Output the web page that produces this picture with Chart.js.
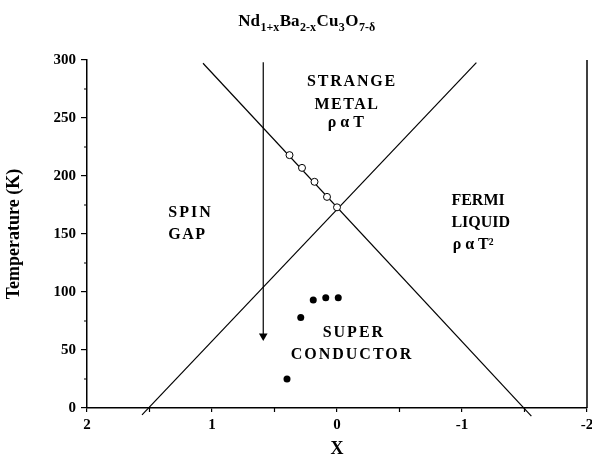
<!DOCTYPE html>
<html>
<head>
<meta charset="utf-8">
<script src="https://cdn.jsdelivr.net/npm/chart.js@4.4.1/dist/chart.umd.min.js"></script>
<style>
body{margin:0;background:#fff;}
#wrap{width:592px;height:464px;}
</style>
</head>
<body>
<div id="wrap"><canvas id="c" width="592" height="464"></canvas></div>
<script>
// phase diagram values
var openX = [0.38, 0.28, 0.18, 0.08, 0.0];
var openY = [218, 207, 195, 182, 173];
var dotX = [0.40, 0.29, 0.19, 0.09, -0.01];
var dotY = [25, 78, 93, 95, 95];
var lineAX = [1.56, -1.115];
var lineAY = [-6, 297.7];
var lineBX = [1.072, -1.555];
var lineBY = [297.2, -7];
var arrowX = [0.59, 0.59];
var arrowY = [298, 62];
var yMinor = [25, 75, 125, 175, 225, 275];
var xMinor = [1.5, 0.5, -0.5, -1.5];

var serif = 'Liberation Serif';

function pts(xs, ys) {
    var a = [];
    for (var i = 0; i < xs.length; i++) a.push({x: xs[i], y: ys[i]});
    return a;
}

// region names, placed in data units
var labels = [
    {t: 'STRANGE', x: -0.12, y: 281, al: 'center', sp: 1.8},
    {t: 'METAL', x: -0.08, y: 261, al: 'center', sp: 1.5},
    {t: 'ρ α T', x: -0.07, y: 246, al: 'center', sp: 0},
    {t: 'SPIN', x: 1.35, y: 168, al: 'left', sp: 2},
    {t: 'GAP', x: 1.35, y: 149, al: 'left', sp: 1.5},
    {t: 'FERMI', x: -0.915, y: 179, al: 'left', sp: 0},
    {t: 'LIQUID', x: -0.915, y: 160, al: 'left', sp: 0},
    {t: 'ρ α T²', x: -0.925, y: 141, al: 'left', sp: 0},
    {t: 'SUPER', x: -0.135, y: 65, al: 'center', sp: 2},
    {t: 'CONDUCTOR', x: -0.12, y: 46, al: 'center', sp: 2}
];

var extras = {
    id: 'extras',
    afterDraw: function (chart) {
        var c = chart.ctx, xs = chart.scales.x, ys = chart.scales.y, a = chart.chartArea;
        c.save();
        c.strokeStyle = '#000';
        c.lineWidth = 1.2;
        c.beginPath();
        // minor ticks
        yMinor.forEach(function (v) {
            var p = ys.getPixelForValue(v);
            c.moveTo(a.left - 3, p); c.lineTo(a.left, p);
        });
        xMinor.forEach(function (v) {
            var p = xs.getPixelForValue(v);
            c.moveTo(p, a.bottom); c.lineTo(p, a.bottom + 4);
        });
        c.stroke();
        // right frame
        c.lineWidth = 1.5;
        c.beginPath();
        c.moveTo(a.right, a.top); c.lineTo(a.right, a.bottom);
        c.stroke();

        c.fillStyle = '#000';
        c.textBaseline = 'middle';
        c.font = 'bold 16px "' + serif + '"';
        labels.forEach(function (l) {
            c.letterSpacing = l.sp + 'px';
            c.textAlign = l.al;
            c.fillText(l.t, xs.getPixelForValue(l.x), ys.getPixelForValue(l.y));
        });
        c.letterSpacing = '0px';

        // title with subscripts
        var runs = [['Nd', 0], ['1+x', 1], ['Ba', 0], ['2-x', 1], ['Cu', 0], ['3', 1], ['O', 0], ['7-δ', 1]];
        var w = 0;
        runs.forEach(function (r) {
            c.font = r[1] ? 'bold 12px "' + serif + '"' : 'bold 17px "' + serif + '"';
            w += c.measureText(r[0]).width + 0.5;
        });
        var x = 307 - w / 2;
        c.textAlign = 'left';
        c.textBaseline = 'alphabetic';
        runs.forEach(function (r) {
            c.font = r[1] ? 'bold 12px "' + serif + '"' : 'bold 17px "' + serif + '"';
            c.fillText(r[0], x, r[1] ? 31 : 26);
            x += c.measureText(r[0]).width + 0.5;
        });
        c.restore();
    }
};

var tickFont = {family: serif, weight: 'bold', size: 15};
var titleFont = {family: serif, weight: 'bold', size: 18};

new Chart(document.getElementById('c'), {
    type: 'scatter',
    data: {
        datasets: [
            {data: pts(openX, openY), pointRadius: 3.5, pointBackgroundColor: '#fff', pointBorderColor: '#000', pointBorderWidth: 1},
            {data: pts(dotX, dotY), pointRadius: 3.5, pointBackgroundColor: '#000', pointBorderColor: '#000', pointBorderWidth: 0},
            {data: pts(lineAX, lineAY), showLine: true, borderColor: '#000', borderWidth: 1.2, pointRadius: 0, clip: 12},
            {data: pts(lineBX, lineBY), showLine: true, borderColor: '#000', borderWidth: 1.2, pointRadius: 0, clip: 12},
            {data: pts(arrowX, arrowY), showLine: true, borderColor: '#000', borderWidth: 1.2,
             pointRadius: [0, 5], pointStyle: 'triangle', rotation: 180, pointBackgroundColor: '#000', pointBorderWidth: 0}
        ]
    },
    options: {
        responsive: false,
        animation: false,
        devicePixelRatio: 1,
        layout: {padding: {top: 60, right: 5, left: 0, bottom: 0}},
        plugins: {legend: {display: false}, tooltip: {enabled: false}},
        scales: {
            x: {
                type: 'linear', min: -2, max: 2, reverse: true,
                ticks: {stepSize: 1, color: '#000', font: tickFont, padding: 4, maxRotation: 0},
                grid: {drawOnChartArea: false, tickLength: 4, color: '#000', lineWidth: 1.2},
                border: {color: '#000', width: 1.5},
                title: {display: true, text: 'X', color: '#000', font: titleFont, padding: {top: 6}},
                afterFit: function (s) { s.height = 56; s.paddingLeft = 0; s.paddingRight = 0; }
            },
            y: {
                min: 0, max: 300,
                ticks: {stepSize: 50, color: '#000', font: tickFont, padding: 5},
                grid: {drawOnChartArea: false, tickLength: 6, color: '#000', lineWidth: 1.2},
                border: {color: '#000', width: 1.5},
                title: {display: true, text: 'Temperature (K)', color: '#000', font: titleFont, padding: {bottom: 2}},
                afterFit: function (s) { s.width = 87; }
            }
        }
    },
    plugins: [extras]
});
</script>
</body>
</html>
